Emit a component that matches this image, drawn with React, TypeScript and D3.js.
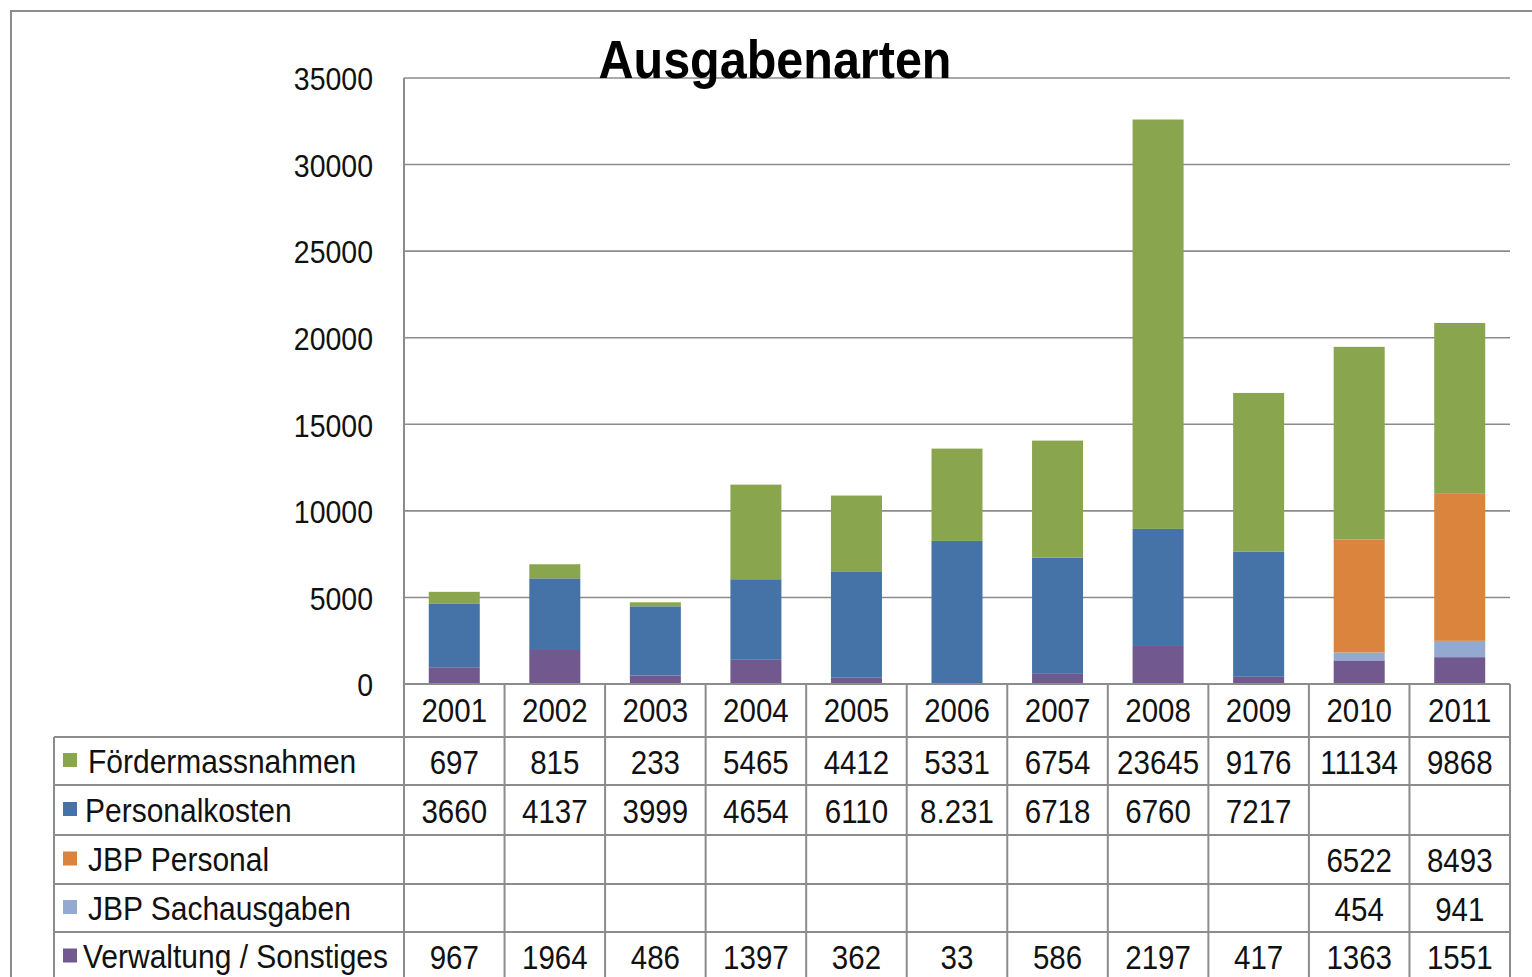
import React, { useEffect, useRef } from "react";
import * as d3 from "d3";

const years = ["2001", "2002", "2003", "2004", "2005", "2006", "2007", "2008", "2009", "2010", "2011"];
const foerder = [697, 815, 233, 5465, 4412, 5331, 6754, 23645, 9176, 11134, 9868];
const personal = [3660, 4137, 3999, 4654, 6110, 8231, 6718, 6760, 7217, null, null];
const jbpPersonal = [null, null, null, null, null, null, null, null, null, 6522, 8493];
const jbpSach = [null, null, null, null, null, null, null, null, null, 454, 941];
const verwaltung = [967, 1964, 486, 1397, 362, 33, 586, 2197, 417, 1363, 1551];
const yTicks = [0, 5000, 10000, 15000, 20000, 25000, 30000, 35000];

// table order (top to bottom) and label shown for each cell
const series = [
  { name: "Fördermassnahmen", values: foerder, color: "#89A54E" },
  { name: "Personalkosten", values: personal, color: "#4572A7", labels: ["3660", "4137", "3999", "4654", "6110", "8.231", "6718", "6760", "7217", "", ""] },
  { name: "JBP Personal", values: jbpPersonal, color: "#DB843D" },
  { name: "JBP Sachausgaben", values: jbpSach, color: "#93A9CF" },
  { name: "Verwaltung / Sonstiges", values: verwaltung, color: "#71588F" },
];

const FONT = "'Liberation Sans', Arial, sans-serif";
const STRETCH = 1.1; // text in the picture is a bit taller than wide

export default function App() {
  const ref = useRef<SVGSVGElement>(null);

  useEffect(() => {
    const svg = d3.select(ref.current);
    svg.selectAll("*").remove();

    const left = 404, right = 1510, top = 78, bottom = 684;
    const grey = "#8c8c8c";

    const label = (g: any, tx: number, ty: number, txt: string, size: number, anchor = "start") =>
      g.append("text")
        .attr("transform", `translate(${tx},${ty}) scale(1,${STRETCH})`)
        .attr("dy", "0.36em")
        .attr("text-anchor", anchor)
        .attr("font-family", FONT).attr("font-size", size)
        .attr("fill", "#111")
        .text(txt);

    // outer frame
    svg.append("rect")
      .attr("x", 11).attr("y", 11).attr("width", 1540).attr("height", 1000)
      .attr("fill", "#fff").attr("stroke", grey).attr("stroke-width", 2);

    const x = d3.scaleBand().domain(years).range([left, right]);
    const y = d3.scaleLinear().domain([0, 35000]).range([bottom, top]);
    const barW = 51;

    // gridlines
    svg.append("g").selectAll("line").data(yTicks).enter().append("line")
      .attr("x1", left).attr("x2", right)
      .attr("y1", (d) => y(d)).attr("y2", (d) => y(d))
      .attr("stroke", grey).attr("stroke-width", 1.6);

    svg.append("line")
      .attr("x1", left).attr("x2", left).attr("y1", top).attr("y2", bottom)
      .attr("stroke", grey).attr("stroke-width", 2);

    const axisG = svg.append("g");
    yTicks.forEach((t) => label(axisG, 373, y(t) + 1, String(t), 28.5, "end"));

    // stacks, bottom to top
    const stackOrder = [...series].reverse();
    const rows = years.map((yr, i) => {
      const r: any = { year: yr };
      stackOrder.forEach((s) => (r[s.name] = s.values[i] ?? 0));
      return r;
    });
    const stacked = d3.stack().keys(stackOrder.map((s) => s.name))(rows);

    stacked.forEach((layer, li) => {
      svg.append("g").attr("fill", stackOrder[li].color)
        .selectAll("rect").data(layer).enter().append("rect")
        .attr("x", (d: any) => (x(d.data.year) as number) + (x.bandwidth() - barW) / 2)
        .attr("width", barW)
        .attr("y", (d) => y(d[1]))
        .attr("height", (d) => y(d[0]) - y(d[1]));
    });

    // data table
    const tableLeft = 54;
    const rowEdges = [684, 737, 785, 835, 884, 932, 981];
    const tg = svg.append("g");

    rowEdges.forEach((ry, i) => {
      tg.append("line")
        .attr("x1", i === 0 ? left : tableLeft).attr("x2", right)
        .attr("y1", ry).attr("y2", ry)
        .attr("stroke", grey).attr("stroke-width", 2);
    });
    tg.append("line").attr("x1", tableLeft).attr("x2", tableLeft)
      .attr("y1", rowEdges[1]).attr("y2", 981).attr("stroke", grey).attr("stroke-width", 2);
    [...years.map((yr) => x(yr) as number), right].forEach((vx) => {
      tg.append("line").attr("x1", vx).attr("x2", vx)
        .attr("y1", bottom).attr("y2", 981).attr("stroke", grey).attr("stroke-width", 2);
    });

    const cx = (yr: string) => (x(yr) as number) + x.bandwidth() / 2;

    years.forEach((yr) => label(tg, cx(yr), (rowEdges[0] + rowEdges[1]) / 2, yr, 29.5, "middle"));

    series.forEach((s, si) => {
      const midY = (rowEdges[si + 1] + rowEdges[si + 2]) / 2;
      tg.append("rect")
        .attr("x", 63).attr("y", midY - 8).attr("width", 14).attr("height", 14)
        .attr("fill", s.color);
      label(tg, si === 4 ? 83 : si === 1 ? 85 : 88, midY, s.name, 30);
      years.forEach((yr, i) => {
        const txt = s.labels ? s.labels[i] : s.values[i] == null ? "" : String(s.values[i]);
        if (txt) label(tg, cx(yr), midY + 1, txt, 29.5, "middle");
      });
    });

    // title
    svg.append("text")
      .attr("transform", `translate(775,78) scale(1,${STRETCH})`)
      .attr("text-anchor", "middle")
      .attr("font-family", FONT).attr("font-size", 48.5).attr("font-weight", "bold")
      .text("Ausgabenarten");
  }, []);

  return (
    <svg
      ref={ref}
      width={1532}
      height={977}
      style={{ position: "absolute", left: 0, top: 0, background: "#fff" }}
    ></svg>
  );
}
